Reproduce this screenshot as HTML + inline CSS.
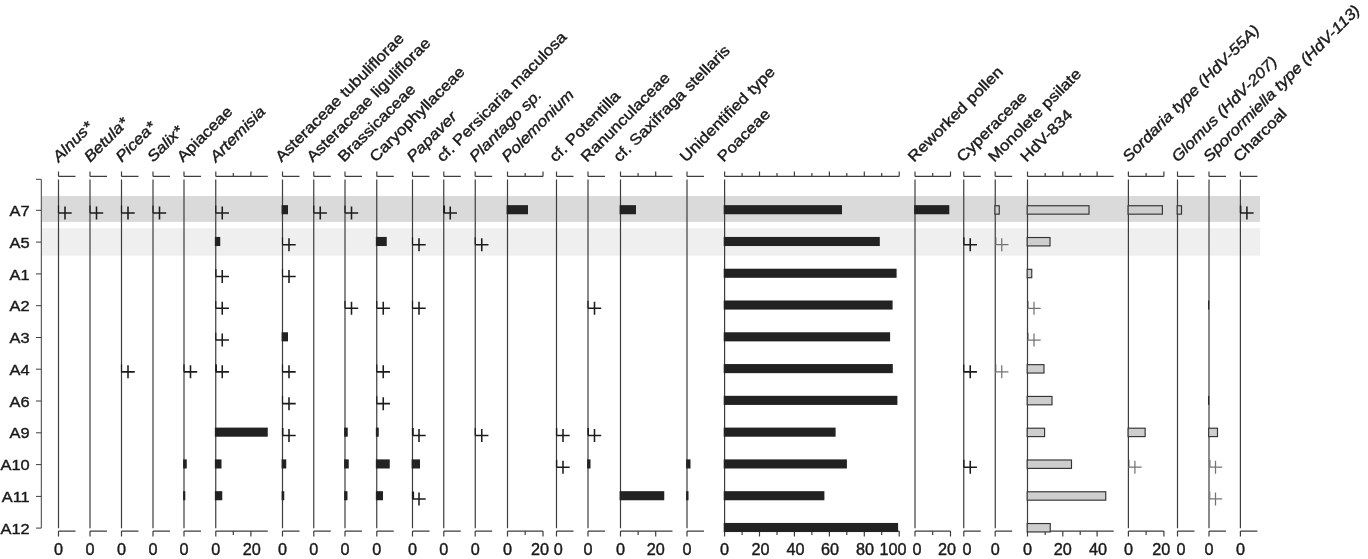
<!DOCTYPE html>
<html lang="en"><head><meta charset="utf-8"><title>Pollen diagram</title>
<style>html,body{margin:0;padding:0;background:#fff}svg{display:block}</style></head>
<body>
<svg width="1368" height="559" viewBox="0 0 1368 559">
<rect x="0" y="0" width="1368" height="559" fill="#fff"/>
<rect x="42" y="196" width="1218" height="25.9" fill="#dadada"/>
<rect x="42" y="228.2" width="1218" height="27.5" fill="#efefef"/>
<g stroke="#3d3d3d" stroke-width="1" fill="none">
<path d="M36 179.3H41.3V528.1H36"/>
<path d="M36 210.3H41.3"/>
<path d="M36 242.1H41.3"/>
<path d="M36 273.9H41.3"/>
<path d="M36 305.7H41.3"/>
<path d="M36 337.5H41.3"/>
<path d="M36 369.2H41.3"/>
<path d="M36 401.0H41.3"/>
<path d="M36 432.8H41.3"/>
<path d="M36 464.6H41.3"/>
<path d="M36 496.4H41.3"/>
</g>
<g stroke="#3d3d3d" stroke-width="1.2" fill="none">
<path d="M58.5 179.5V528.3"/>
<path d="M58.5 176.4H75.5M58.5 171.4V176.4"/>
<path d="M58.5 531.1H75.5M58.5 531.1V536.4"/>
<path d="M90 179.5V528.3"/>
<path d="M90 176.4H107.0M90.0 171.4V176.4"/>
<path d="M90 531.1H107.0M90.0 531.1V536.4"/>
<path d="M121.5 179.5V528.3"/>
<path d="M121.5 176.4H138.5M121.5 171.4V176.4"/>
<path d="M121.5 531.1H138.5M121.5 531.1V536.4"/>
<path d="M153 179.5V528.3"/>
<path d="M153 176.4H170.0M153.0 171.4V176.4"/>
<path d="M153 531.1H170.0M153.0 531.1V536.4"/>
<path d="M184 179.5V528.3"/>
<path d="M184 176.4H201.0M184.0 171.4V176.4"/>
<path d="M184 531.1H201.0M184.0 531.1V536.4"/>
<path d="M215.75 179.5V528.3"/>
<path d="M215.75 176.4H267.8M215.8 171.4V176.4M233.3 172.9V176.4M250.9 171.4V176.4"/>
<path d="M215.75 531.1H267.8M215.8 531.1V536.4M233.3 531.1V535.0M250.9 531.1V536.4"/>
<path d="M282.5 179.5V528.3"/>
<path d="M282.5 176.4H299.5M282.5 171.4V176.4"/>
<path d="M282.5 531.1H299.5M282.5 531.1V536.4"/>
<path d="M313.75 179.5V528.3"/>
<path d="M313.75 176.4H330.8M313.8 171.4V176.4"/>
<path d="M313.75 531.1H330.8M313.8 531.1V536.4"/>
<path d="M345 179.5V528.3"/>
<path d="M345 176.4H362.0M345.0 171.4V176.4"/>
<path d="M345 531.1H362.0M345.0 531.1V536.4"/>
<path d="M376.75 179.5V528.3"/>
<path d="M376.75 176.4H393.8M376.8 171.4V176.4"/>
<path d="M376.75 531.1H393.8M376.8 531.1V536.4"/>
<path d="M412.5 179.5V528.3"/>
<path d="M412.5 176.4H429.5M412.5 171.4V176.4"/>
<path d="M412.5 531.1H429.5M412.5 531.1V536.4"/>
<path d="M443.75 179.5V528.3"/>
<path d="M443.75 176.4H460.8M443.8 171.4V176.4"/>
<path d="M443.75 531.1H460.8M443.8 531.1V536.4"/>
<path d="M475.25 179.5V528.3"/>
<path d="M475.25 176.4H492.2M475.2 171.4V176.4"/>
<path d="M475.25 531.1H492.2M475.2 531.1V536.4"/>
<path d="M507.5 179.5V528.3"/>
<path d="M507.5 176.4H543.0M507.5 171.4V176.4M525.2 172.9V176.4M543.0 171.4V176.4"/>
<path d="M507.5 531.1H543.0M507.5 531.1V536.4M525.2 531.1V535.0M543.0 531.1V536.4"/>
<path d="M556.5 179.5V528.3"/>
<path d="M556.5 176.4H573.5M556.5 171.4V176.4"/>
<path d="M556.5 531.1H573.5M556.5 531.1V536.4"/>
<path d="M588 179.5V528.3"/>
<path d="M588 176.4H605.0M588.0 171.4V176.4"/>
<path d="M588 531.1H605.0M588.0 531.1V536.4"/>
<path d="M620.5 179.5V528.3"/>
<path d="M620.5 176.4H672.5M620.5 171.4V176.4M638.1 172.9V176.4M655.7 171.4V176.4"/>
<path d="M620.5 531.1H672.5M620.5 531.1V536.4M638.1 531.1V535.0M655.7 531.1V536.4"/>
<path d="M687 179.5V528.3"/>
<path d="M687 176.4H704.0M687.0 171.4V176.4"/>
<path d="M687 531.1H704.0M687.0 531.1V536.4"/>
<path d="M724.6 179.5V528.3"/>
<path d="M724.6 176.4H899.2M724.6 171.4V176.4M742.1 172.9V176.4M759.5 171.4V176.4M777.0 172.9V176.4M794.4 171.4V176.4M811.9 172.9V176.4M829.4 171.4V176.4M846.8 172.9V176.4M864.3 171.4V176.4M881.7 172.9V176.4M899.2 171.4V176.4"/>
<path d="M724.6 531.1H899.2M724.6 531.1V536.4M742.1 531.1V535.0M759.5 531.1V536.4M777.0 531.1V535.0M794.4 531.1V536.4M811.9 531.1V535.0M829.4 531.1V536.4M846.8 531.1V535.0M864.3 531.1V536.4M881.7 531.1V535.0M899.2 531.1V536.4"/>
<path d="M915 179.5V528.3"/>
<path d="M915 176.4H950.5M915.0 171.4V176.4M932.7 172.9V176.4M950.5 171.4V176.4"/>
<path d="M915 531.1H950.5M915.0 531.1V536.4M932.7 531.1V535.0M950.5 531.1V536.4"/>
<path d="M963.75 179.5V528.3"/>
<path d="M963.75 176.4H980.8M963.8 171.4V176.4"/>
<path d="M963.75 531.1H980.8M963.8 531.1V536.4"/>
<path d="M995.25 179.5V528.3"/>
<path d="M995.25 176.4H1012.2M995.2 171.4V176.4"/>
<path d="M995.25 531.1H1012.2M995.2 531.1V536.4"/>
<path d="M1027.5 179.5V528.3"/>
<path d="M1027.5 176.4H1113.7M1027.5 171.4V176.4M1045.2 172.9V176.4M1062.8 171.4V176.4M1080.2 172.9V176.4M1097.1 171.4V176.4"/>
<path d="M1027.5 531.1H1113.7M1027.5 531.1V536.4M1045.2 531.1V535.0M1062.8 531.1V536.4M1080.2 531.1V535.0M1097.1 531.1V536.4"/>
<path d="M1128.4 179.5V528.3"/>
<path d="M1128.4 176.4H1163.9M1128.4 171.4V176.4M1146.1 172.9V176.4M1163.9 171.4V176.4"/>
<path d="M1128.4 531.1H1163.9M1128.4 531.1V536.4M1146.1 531.1V535.0M1163.9 531.1V536.4"/>
<path d="M1177.5 179.5V528.3"/>
<path d="M1177.5 176.4H1194.5M1177.5 171.4V176.4"/>
<path d="M1177.5 531.1H1194.5M1177.5 531.1V536.4"/>
<path d="M1209 179.5V528.3"/>
<path d="M1209 176.4H1226.0M1209.0 171.4V176.4"/>
<path d="M1209 531.1H1226.0M1209.0 531.1V536.4"/>
<path d="M1240.4 179.5V528.3"/>
<path d="M1240.4 176.4H1257.4M1240.4 171.4V176.4"/>
<path d="M1240.4 531.1H1257.4M1240.4 531.1V536.4"/>
</g>
<rect x="57.90" y="205.55" width="1.20" height="7.4" fill="#1c1c1c"/>
<path d="M58.50 212.95H71.70M65.00 206.45V219.45" stroke="#1c1c1c" stroke-width="1.55" fill="none"/>
<rect x="89.40" y="205.55" width="1.20" height="7.4" fill="#1c1c1c"/>
<path d="M90.00 212.95H103.20M96.50 206.45V219.45" stroke="#1c1c1c" stroke-width="1.55" fill="none"/>
<rect x="120.90" y="205.55" width="1.20" height="7.4" fill="#1c1c1c"/>
<path d="M121.50 212.95H134.70M128.00 206.45V219.45" stroke="#1c1c1c" stroke-width="1.55" fill="none"/>
<rect x="152.40" y="205.55" width="1.20" height="7.4" fill="#1c1c1c"/>
<path d="M153.00 212.95H166.20M159.50 206.45V219.45" stroke="#1c1c1c" stroke-width="1.55" fill="none"/>
<rect x="215.15" y="205.55" width="1.20" height="7.4" fill="#1c1c1c"/>
<path d="M215.75 212.95H228.95M222.25 206.45V219.45" stroke="#1c1c1c" stroke-width="1.55" fill="none"/>
<rect x="313.15" y="205.55" width="1.20" height="7.4" fill="#1c1c1c"/>
<path d="M313.75 212.95H326.95M320.25 206.45V219.45" stroke="#1c1c1c" stroke-width="1.55" fill="none"/>
<rect x="344.40" y="205.55" width="1.20" height="7.4" fill="#1c1c1c"/>
<path d="M345.00 212.95H358.20M351.50 206.45V219.45" stroke="#1c1c1c" stroke-width="1.55" fill="none"/>
<rect x="281.60" y="205.15" width="6.40" height="9.1" fill="#222"/>
<rect x="443.15" y="205.55" width="1.90" height="7.4" fill="#1c1c1c"/>
<path d="M443.75 212.95H456.95M450.25 206.45V219.45" stroke="#1c1c1c" stroke-width="1.55" fill="none"/>
<rect x="506.60" y="205.15" width="21.40" height="9.1" fill="#222"/>
<rect x="619.60" y="205.15" width="16.40" height="9.1" fill="#222"/>
<rect x="723.70" y="205.15" width="118.30" height="9.1" fill="#222"/>
<rect x="914.10" y="205.15" width="35.20" height="9.1" fill="#222"/>
<rect x="994.95" y="205.75" width="4.30" height="8.4" fill="#cecece" stroke="#333" stroke-width="1.15"/>
<rect x="1027.20" y="205.75" width="61.80" height="8.4" fill="#cecece" stroke="#333" stroke-width="1.15"/>
<rect x="1128.10" y="205.75" width="34.30" height="8.4" fill="#cecece" stroke="#333" stroke-width="1.15"/>
<rect x="1177.20" y="205.75" width="4.30" height="8.4" fill="#cecece" stroke="#333" stroke-width="1.15"/>
<rect x="1239.80" y="205.55" width="1.60" height="7.4" fill="#1c1c1c"/>
<path d="M1240.40 212.95H1253.60M1246.90 206.45V219.45" stroke="#1c1c1c" stroke-width="1.55" fill="none"/>
<rect x="214.85" y="236.93" width="5.40" height="9.1" fill="#222"/>
<rect x="281.90" y="237.33" width="1.20" height="7.4" fill="#1c1c1c"/>
<path d="M282.50 244.73H295.70M289.00 238.23V251.23" stroke="#1c1c1c" stroke-width="1.55" fill="none"/>
<rect x="375.85" y="236.93" width="10.90" height="9.1" fill="#222"/>
<rect x="411.90" y="237.33" width="1.20" height="7.4" fill="#1c1c1c"/>
<path d="M412.50 244.73H425.70M419.00 238.23V251.23" stroke="#1c1c1c" stroke-width="1.55" fill="none"/>
<rect x="474.65" y="237.33" width="1.20" height="7.4" fill="#1c1c1c"/>
<path d="M475.25 244.73H488.45M481.75 238.23V251.23" stroke="#1c1c1c" stroke-width="1.55" fill="none"/>
<rect x="723.70" y="236.93" width="156.10" height="9.1" fill="#222"/>
<rect x="963.15" y="237.33" width="1.40" height="7.4" fill="#1c1c1c"/>
<path d="M963.75 244.73H976.95M970.25 238.23V251.23" stroke="#1c1c1c" stroke-width="1.55" fill="none"/>
<rect x="995.75" y="237.33" width="0.60" height="7.4" fill="#666"/>
<path d="M995.25 244.73H1008.45M1001.75 238.23V251.23" stroke="#747474" stroke-width="1.25" fill="none"/>
<rect x="1027.20" y="237.53" width="22.80" height="8.4" fill="#cecece" stroke="#333" stroke-width="1.15"/>
<rect x="215.15" y="269.11" width="1.40" height="7.4" fill="#1c1c1c"/>
<path d="M215.75 276.51H228.95M222.25 270.01V283.01" stroke="#1c1c1c" stroke-width="1.55" fill="none"/>
<rect x="281.90" y="269.11" width="1.20" height="7.4" fill="#1c1c1c"/>
<path d="M282.50 276.51H295.70M289.00 270.01V283.01" stroke="#1c1c1c" stroke-width="1.55" fill="none"/>
<rect x="723.70" y="268.71" width="172.90" height="9.1" fill="#222"/>
<rect x="1027.20" y="269.31" width="4.55" height="8.4" fill="#cecece" stroke="#333" stroke-width="1.15"/>
<rect x="215.15" y="300.89" width="1.20" height="7.4" fill="#1c1c1c"/>
<path d="M215.75 308.29H228.95M222.25 301.79V314.79" stroke="#1c1c1c" stroke-width="1.55" fill="none"/>
<rect x="344.40" y="300.89" width="1.20" height="7.4" fill="#1c1c1c"/>
<path d="M345.00 308.29H358.20M351.50 301.79V314.79" stroke="#1c1c1c" stroke-width="1.55" fill="none"/>
<rect x="376.15" y="300.89" width="1.20" height="7.4" fill="#1c1c1c"/>
<path d="M376.75 308.29H389.95M383.25 301.79V314.79" stroke="#1c1c1c" stroke-width="1.55" fill="none"/>
<rect x="411.90" y="300.89" width="1.20" height="7.4" fill="#1c1c1c"/>
<path d="M412.50 308.29H425.70M419.00 301.79V314.79" stroke="#1c1c1c" stroke-width="1.55" fill="none"/>
<rect x="587.40" y="300.89" width="1.20" height="7.4" fill="#1c1c1c"/>
<path d="M588.00 308.29H601.20M594.50 301.79V314.79" stroke="#1c1c1c" stroke-width="1.55" fill="none"/>
<rect x="723.70" y="300.49" width="168.90" height="9.1" fill="#222"/>
<rect x="1028.00" y="300.89" width="0.60" height="7.4" fill="#666"/>
<path d="M1027.50 308.29H1040.70M1034.00 301.79V314.79" stroke="#747474" stroke-width="1.25" fill="none"/>
<rect x="215.15" y="332.67" width="1.20" height="7.4" fill="#1c1c1c"/>
<path d="M215.75 340.07H228.95M222.25 333.57V346.57" stroke="#1c1c1c" stroke-width="1.55" fill="none"/>
<rect x="281.60" y="332.27" width="6.40" height="9.1" fill="#222"/>
<rect x="723.70" y="332.27" width="166.40" height="9.1" fill="#222"/>
<rect x="1028.00" y="332.67" width="0.60" height="7.4" fill="#666"/>
<path d="M1027.50 340.07H1040.70M1034.00 333.57V346.57" stroke="#747474" stroke-width="1.25" fill="none"/>
<rect x="120.90" y="364.45" width="1.20" height="7.4" fill="#1c1c1c"/>
<path d="M121.50 371.85H134.70M128.00 365.35V378.35" stroke="#1c1c1c" stroke-width="1.55" fill="none"/>
<rect x="183.40" y="364.45" width="1.20" height="7.4" fill="#1c1c1c"/>
<path d="M184.00 371.85H197.20M190.50 365.35V378.35" stroke="#1c1c1c" stroke-width="1.55" fill="none"/>
<rect x="281.90" y="364.45" width="1.20" height="7.4" fill="#1c1c1c"/>
<path d="M282.50 371.85H295.70M289.00 365.35V378.35" stroke="#1c1c1c" stroke-width="1.55" fill="none"/>
<rect x="376.15" y="364.45" width="1.20" height="7.4" fill="#1c1c1c"/>
<path d="M376.75 371.85H389.95M383.25 365.35V378.35" stroke="#1c1c1c" stroke-width="1.55" fill="none"/>
<rect x="215.15" y="364.45" width="1.80" height="7.4" fill="#1c1c1c"/>
<path d="M215.75 371.85H228.95M222.25 365.35V378.35" stroke="#1c1c1c" stroke-width="1.55" fill="none"/>
<rect x="723.70" y="364.05" width="169.10" height="9.1" fill="#222"/>
<rect x="963.15" y="364.45" width="1.20" height="7.4" fill="#1c1c1c"/>
<path d="M963.75 371.85H976.95M970.25 365.35V378.35" stroke="#1c1c1c" stroke-width="1.55" fill="none"/>
<rect x="995.75" y="364.45" width="0.60" height="7.4" fill="#666"/>
<path d="M995.25 371.85H1008.45M1001.75 365.35V378.35" stroke="#747474" stroke-width="1.25" fill="none"/>
<rect x="1027.20" y="364.65" width="16.80" height="8.4" fill="#cecece" stroke="#333" stroke-width="1.15"/>
<rect x="281.90" y="396.23" width="1.20" height="7.4" fill="#1c1c1c"/>
<path d="M282.50 403.63H295.70M289.00 397.13V410.13" stroke="#1c1c1c" stroke-width="1.55" fill="none"/>
<rect x="376.15" y="396.23" width="1.20" height="7.4" fill="#1c1c1c"/>
<path d="M376.75 403.63H389.95M383.25 397.13V410.13" stroke="#1c1c1c" stroke-width="1.55" fill="none"/>
<rect x="723.70" y="395.83" width="173.70" height="9.1" fill="#222"/>
<rect x="1027.20" y="396.43" width="24.80" height="8.4" fill="#cecece" stroke="#333" stroke-width="1.15"/>
<rect x="214.85" y="427.61" width="52.90" height="9.1" fill="#222"/>
<rect x="281.90" y="428.01" width="1.60" height="7.4" fill="#1c1c1c"/>
<path d="M282.50 435.41H295.70M289.00 428.91V441.91" stroke="#1c1c1c" stroke-width="1.55" fill="none"/>
<rect x="344.10" y="427.61" width="3.65" height="9.1" fill="#222"/>
<rect x="375.85" y="427.61" width="2.90" height="9.1" fill="#222"/>
<rect x="411.90" y="428.01" width="1.90" height="7.4" fill="#1c1c1c"/>
<path d="M412.50 435.41H425.70M419.00 428.91V441.91" stroke="#1c1c1c" stroke-width="1.55" fill="none"/>
<rect x="474.65" y="428.01" width="1.20" height="7.4" fill="#1c1c1c"/>
<path d="M475.25 435.41H488.45M481.75 428.91V441.91" stroke="#1c1c1c" stroke-width="1.55" fill="none"/>
<rect x="555.90" y="428.01" width="1.40" height="7.4" fill="#1c1c1c"/>
<path d="M556.50 435.41H569.70M563.00 428.91V441.91" stroke="#1c1c1c" stroke-width="1.55" fill="none"/>
<rect x="587.40" y="428.01" width="1.60" height="7.4" fill="#1c1c1c"/>
<path d="M588.00 435.41H601.20M594.50 428.91V441.91" stroke="#1c1c1c" stroke-width="1.55" fill="none"/>
<rect x="723.70" y="427.61" width="111.90" height="9.1" fill="#222"/>
<rect x="1027.20" y="428.21" width="17.40" height="8.4" fill="#cecece" stroke="#333" stroke-width="1.15"/>
<rect x="1128.10" y="428.21" width="17.05" height="8.4" fill="#cecece" stroke="#333" stroke-width="1.15"/>
<rect x="1208.70" y="428.21" width="8.80" height="8.4" fill="#cecece" stroke="#333" stroke-width="1.15"/>
<rect x="183.10" y="459.39" width="3.65" height="9.1" fill="#222"/>
<rect x="214.85" y="459.39" width="6.65" height="9.1" fill="#222"/>
<rect x="281.60" y="459.39" width="4.65" height="9.1" fill="#222"/>
<rect x="344.10" y="459.39" width="4.65" height="9.1" fill="#222"/>
<rect x="375.85" y="459.39" width="13.90" height="9.1" fill="#222"/>
<rect x="411.60" y="459.39" width="8.40" height="9.1" fill="#222"/>
<rect x="555.90" y="459.79" width="1.40" height="7.4" fill="#1c1c1c"/>
<path d="M556.50 467.19H569.70M563.00 460.69V473.69" stroke="#1c1c1c" stroke-width="1.55" fill="none"/>
<rect x="587.10" y="459.39" width="3.40" height="9.1" fill="#222"/>
<rect x="686.10" y="459.39" width="4.40" height="9.1" fill="#222"/>
<rect x="723.70" y="459.39" width="123.20" height="9.1" fill="#222"/>
<rect x="963.15" y="459.79" width="1.40" height="7.4" fill="#1c1c1c"/>
<path d="M963.75 467.19H976.95M970.25 460.69V473.69" stroke="#1c1c1c" stroke-width="1.55" fill="none"/>
<rect x="1027.20" y="459.99" width="44.30" height="8.4" fill="#cecece" stroke="#333" stroke-width="1.15"/>
<rect x="1128.90" y="459.79" width="0.60" height="7.4" fill="#666"/>
<path d="M1128.40 467.19H1141.60M1134.90 460.69V473.69" stroke="#747474" stroke-width="1.25" fill="none"/>
<rect x="1209.50" y="459.79" width="1.00" height="7.4" fill="#666"/>
<path d="M1209.00 467.19H1222.20M1215.50 460.69V473.69" stroke="#747474" stroke-width="1.25" fill="none"/>
<rect x="183.10" y="491.17" width="2.20" height="9.1" fill="#222"/>
<rect x="214.85" y="491.17" width="7.40" height="9.1" fill="#222"/>
<rect x="281.60" y="491.17" width="2.65" height="9.1" fill="#222"/>
<rect x="344.10" y="491.17" width="3.40" height="9.1" fill="#222"/>
<rect x="375.85" y="491.17" width="7.15" height="9.1" fill="#222"/>
<rect x="411.90" y="491.57" width="2.20" height="7.4" fill="#1c1c1c"/>
<path d="M412.50 498.97H425.70M419.00 492.47V505.47" stroke="#1c1c1c" stroke-width="1.55" fill="none"/>
<rect x="619.60" y="491.17" width="44.65" height="9.1" fill="#222"/>
<rect x="686.10" y="491.17" width="2.40" height="9.1" fill="#222"/>
<rect x="723.70" y="491.17" width="100.70" height="9.1" fill="#222"/>
<rect x="1027.20" y="491.77" width="78.55" height="8.4" fill="#cecece" stroke="#333" stroke-width="1.15"/>
<rect x="1209.50" y="491.57" width="0.80" height="7.4" fill="#666"/>
<path d="M1209.00 498.97H1222.20M1215.50 492.47V505.47" stroke="#747474" stroke-width="1.25" fill="none"/>
<rect x="1208.10" y="300.49" width="1.15" height="9.1" fill="#222"/>
<rect x="1208.10" y="395.83" width="1.15" height="9.1" fill="#222"/>
<rect x="723.70" y="522.95" width="174.40" height="9.1" fill="#222"/>
<rect x="1027.20" y="523.55" width="23.05" height="8.4" fill="#cecece" stroke="#333" stroke-width="1.15"/>
<g font-family="'Liberation Sans', Arial, Helvetica, sans-serif" font-size="15.2" fill="#1a1a1a" stroke="#1a1a1a" stroke-width="0.4">
<text transform="translate(58.7,162.8) rotate(-45) scale(1.125,1)" font-style="italic">Alnus*</text>
<text transform="translate(58.5,555.2) scale(1.04,1)" text-anchor="middle" font-size="15.6">0</text>
<text transform="translate(90.2,162.8) rotate(-45) scale(1.125,1)" font-style="italic">Betula*</text>
<text transform="translate(90.0,555.2) scale(1.04,1)" text-anchor="middle" font-size="15.6">0</text>
<text transform="translate(121.7,162.8) rotate(-45) scale(1.125,1)" font-style="italic">Picea*</text>
<text transform="translate(121.5,555.2) scale(1.04,1)" text-anchor="middle" font-size="15.6">0</text>
<text transform="translate(153.2,162.8) rotate(-45) scale(1.125,1)" font-style="italic">Salix*</text>
<text transform="translate(153.0,555.2) scale(1.04,1)" text-anchor="middle" font-size="15.6">0</text>
<text transform="translate(183.0,162.8) rotate(-45) scale(1.125,1)">Apiaceae</text>
<text transform="translate(184.0,555.2) scale(1.04,1)" text-anchor="middle" font-size="15.6">0</text>
<text transform="translate(215.95,162.8) rotate(-45) scale(1.125,1)" font-style="italic">Artemisia</text>
<text transform="translate(215.8,555.2) scale(1.04,1)" text-anchor="middle" font-size="15.6">0</text>
<text transform="translate(251.8,555.2) scale(1.04,1)" text-anchor="middle" font-size="15.6">20</text>
<text transform="translate(281.5,162.8) rotate(-45) scale(1.125,1)">Asteraceae tubuliflorae</text>
<text transform="translate(282.5,555.2) scale(1.04,1)" text-anchor="middle" font-size="15.6">0</text>
<text transform="translate(312.75,162.8) rotate(-45) scale(1.125,1)">Asteraceae liguliflorae</text>
<text transform="translate(313.8,555.2) scale(1.04,1)" text-anchor="middle" font-size="15.6">0</text>
<text transform="translate(344.0,162.8) rotate(-45) scale(1.125,1)">Brassicaceae</text>
<text transform="translate(345.0,555.2) scale(1.04,1)" text-anchor="middle" font-size="15.6">0</text>
<text transform="translate(375.75,162.8) rotate(-45) scale(1.125,1)">Caryophyllaceae</text>
<text transform="translate(376.8,555.2) scale(1.04,1)" text-anchor="middle" font-size="15.6">0</text>
<text transform="translate(412.7,162.8) rotate(-45) scale(1.125,1)" font-style="italic">Papaver</text>
<text transform="translate(412.5,555.2) scale(1.04,1)" text-anchor="middle" font-size="15.6">0</text>
<text transform="translate(442.75,162.8) rotate(-45) scale(1.125,1)">cf. Persicaria maculosa</text>
<text transform="translate(443.8,555.2) scale(1.04,1)" text-anchor="middle" font-size="15.6">0</text>
<text transform="translate(475.45,162.8) rotate(-45) scale(1.125,1)" font-style="italic">Plantago sp.</text>
<text transform="translate(475.2,555.2) scale(1.04,1)" text-anchor="middle" font-size="15.6">0</text>
<text transform="translate(507.7,162.8) rotate(-45) scale(1.125,1)" font-style="italic">Polemonium</text>
<text transform="translate(507.5,555.2) scale(1.04,1)" text-anchor="middle" font-size="15.6">0</text>
<text transform="translate(540.0,555.2) scale(1.04,1)" text-anchor="middle" font-size="15.6">20</text>
<text transform="translate(555.5,162.8) rotate(-45) scale(1.125,1)">cf. Potentilla</text>
<text transform="translate(558.2,555.2) scale(1.04,1)" text-anchor="middle" font-size="15.6">0</text>
<text transform="translate(587.0,162.8) rotate(-45) scale(1.125,1)">Ranunculaceae</text>
<text transform="translate(588.0,555.2) scale(1.04,1)" text-anchor="middle" font-size="15.6">0</text>
<text transform="translate(619.5,162.8) rotate(-45) scale(1.125,1)">cf. Saxifraga stellaris</text>
<text transform="translate(620.5,555.2) scale(1.04,1)" text-anchor="middle" font-size="15.6">0</text>
<text transform="translate(655.7,555.2) scale(1.04,1)" text-anchor="middle" font-size="15.6">20</text>
<text transform="translate(686.0,162.8) rotate(-45) scale(1.125,1)">Unidentified type</text>
<text transform="translate(687.0,555.2) scale(1.04,1)" text-anchor="middle" font-size="15.6">0</text>
<text transform="translate(723.6,162.8) rotate(-45) scale(1.125,1)">Poaceae</text>
<text transform="translate(724.6,555.2) scale(1.04,1)" text-anchor="middle" font-size="15.6">0</text>
<text transform="translate(760.5,555.2) scale(1.04,1)" text-anchor="middle" font-size="15.6">20</text>
<text transform="translate(795.4,555.2) scale(1.04,1)" text-anchor="middle" font-size="15.6">40</text>
<text transform="translate(830.0,555.2) scale(1.04,1)" text-anchor="middle" font-size="15.6">60</text>
<text transform="translate(864.9,555.2) scale(1.04,1)" text-anchor="middle" font-size="15.6">80</text>
<text transform="translate(893.0,555.2) scale(1.04,1)" text-anchor="middle" font-size="15.6">100</text>
<text transform="translate(914.0,162.8) rotate(-45) scale(1.125,1)">Reworked pollen</text>
<text transform="translate(917.0,555.2) scale(1.04,1)" text-anchor="middle" font-size="15.6">0</text>
<text transform="translate(947.0,555.2) scale(1.04,1)" text-anchor="middle" font-size="15.6">20</text>
<text transform="translate(962.75,162.8) rotate(-45) scale(1.125,1)">Cyperaceae</text>
<text transform="translate(967.0,555.2) scale(1.04,1)" text-anchor="middle" font-size="15.6">0</text>
<text transform="translate(994.25,162.8) rotate(-45) scale(1.125,1)">Monolete psilate</text>
<text transform="translate(995.2,555.2) scale(1.04,1)" text-anchor="middle" font-size="15.6">0</text>
<text transform="translate(1026.5,162.8) rotate(-45) scale(1.125,1)">HdV-834</text>
<text transform="translate(1027.5,555.2) scale(1.04,1)" text-anchor="middle" font-size="15.6">0</text>
<text transform="translate(1062.8,555.2) scale(1.04,1)" text-anchor="middle" font-size="15.6">20</text>
<text transform="translate(1098.1,555.2) scale(1.04,1)" text-anchor="middle" font-size="15.6">40</text>
<text transform="translate(1128.6000000000001,162.8) rotate(-45) scale(1.125,1)" font-style="italic">Sordaria type (HdV-55A)</text>
<text transform="translate(1128.4,555.2) scale(1.04,1)" text-anchor="middle" font-size="15.6">0</text>
<text transform="translate(1161.3,555.2) scale(1.04,1)" text-anchor="middle" font-size="15.6">20</text>
<text transform="translate(1177.7,162.8) rotate(-45) scale(1.125,1)" font-style="italic">Glomus (HdV-207)</text>
<text transform="translate(1181.0,555.2) scale(1.04,1)" text-anchor="middle" font-size="15.6">0</text>
<text transform="translate(1209.2,162.8) rotate(-45) scale(1.125,1)" font-style="italic">Sporormiella type (HdV-113)</text>
<text transform="translate(1209.0,555.2) scale(1.04,1)" text-anchor="middle" font-size="15.6">0</text>
<text transform="translate(1239.4,162.8) rotate(-45) scale(1.125,1)">Charcoal</text>
<text transform="translate(1240.4,555.2) scale(1.04,1)" text-anchor="middle" font-size="15.6">0</text>
<text transform="translate(29.7,215.9) scale(1.06,1)" text-anchor="end" font-size="15.5">A7</text>
<text transform="translate(29.7,247.7) scale(1.06,1)" text-anchor="end" font-size="15.5">A5</text>
<text transform="translate(29.7,279.5) scale(1.06,1)" text-anchor="end" font-size="15.5">A1</text>
<text transform="translate(29.7,311.3) scale(1.06,1)" text-anchor="end" font-size="15.5">A2</text>
<text transform="translate(29.7,343.1) scale(1.06,1)" text-anchor="end" font-size="15.5">A3</text>
<text transform="translate(29.7,374.9) scale(1.06,1)" text-anchor="end" font-size="15.5">A4</text>
<text transform="translate(29.7,406.6) scale(1.06,1)" text-anchor="end" font-size="15.5">A6</text>
<text transform="translate(29.7,438.4) scale(1.06,1)" text-anchor="end" font-size="15.5">A9</text>
<text transform="translate(29.7,470.2) scale(1.06,1)" text-anchor="end" font-size="15.5">A10</text>
<text transform="translate(29.7,502.0) scale(1.06,1)" text-anchor="end" font-size="15.5">A11</text>
<text transform="translate(29.7,533.8) scale(1.06,1)" text-anchor="end" font-size="15.5">A12</text>
</g>
</svg>
</body></html>
